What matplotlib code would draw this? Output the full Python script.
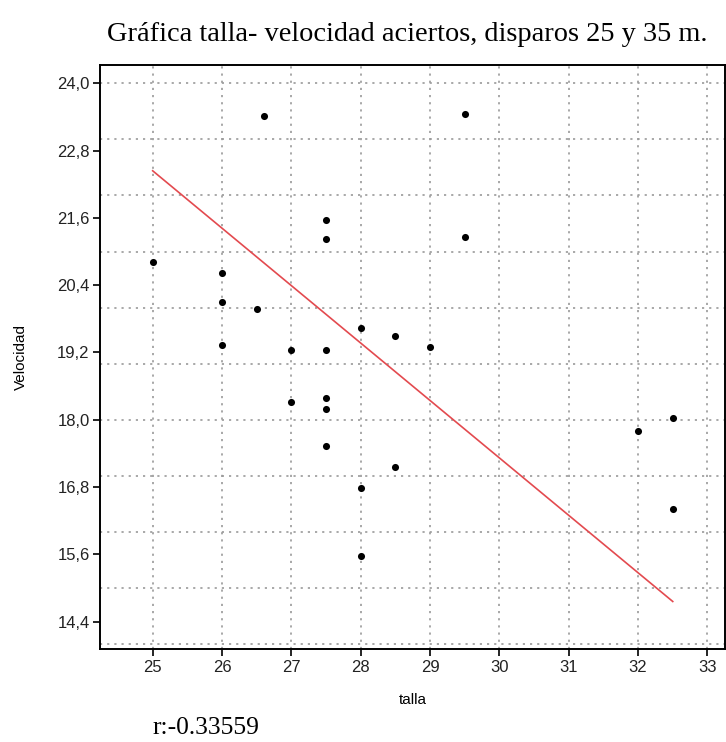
import matplotlib
matplotlib.use("Agg")
import matplotlib.pyplot as plt
import numpy as np

# talla (x) vs velocidad (y)
talla = [25, 26, 26, 26, 26.5, 26.6, 27, 27, 27.5, 27.5, 27.5, 27.5, 27.5, 27.5,
         28, 28, 28, 28.5, 28.5, 29, 29.5, 29.5, 32, 32.5, 32.5]
velocidad = [20.81, 20.61, 20.10, 19.34, 19.98, 23.42, 19.24, 18.32, 21.56, 21.22,
             19.24, 18.39, 18.19, 17.54, 19.63, 16.79, 15.57, 19.50, 17.16, 19.30,
             23.45, 21.26, 17.80, 18.04, 16.41]

# fitted line as drawn in the reference
fit_x = [25, 32.5]
fit_y = [22.44, 14.76]

xticks = [25, 26, 27, 28, 29, 30, 31, 32, 33]
yticks = [14.4, 15.6, 16.8, 18.0, 19.2, 20.4, 21.6, 22.8, 24.0]
ygrid = list(range(14, 25))

title = "Gráfica talla- velocidad aciertos, disparos 25 y 35 m."
r_text = "r:-0.33559"

sans = ["Liberation Sans", "DejaVu Sans"]
serif = ["Liberation Serif", "DejaVu Serif"]

fig = plt.figure(figsize=(7.26, 7.42), dpi=100)
ax = fig.add_axes([0.1377, 0.1249, 0.8606, 0.7875])

# grid: integer positions, independent from the tick labels
for g in xticks:
    ax.axvline(g, color="#9a9a9a", lw=1.2, ls=(0, (1.3, 3.0)), zorder=1)
for g in ygrid:
    ax.axhline(g, color="#9a9a9a", lw=1.2, ls=(0, (1.3, 3.0)), zorder=1)

ax.plot(fit_x, fit_y, color="#e34a4f", lw=1.2, zorder=2)
ax.scatter(talla, velocidad, s=26, color="black", zorder=3, linewidths=0)

ax.set_xlim(24.24, 33.25)
ax.set_ylim(13.907, 24.326)
ax.set_xticks(xticks)
ax.set_yticks(yticks)
ax.set_yticklabels([f"{v:.1f}".replace(".", ",") for v in yticks])
ax.tick_params(direction="out", length=5, width=1.2, labelsize=12, pad=2.5, colors="black")
for lab in ax.get_xticklabels() + ax.get_yticklabels():
    lab.set_family(sans)
    lab.set_color("#222222")
for s in ax.spines.values():
    s.set_linewidth(1.4)

ax.set_xlabel("talla", family=sans, fontsize=11, labelpad=13)
ax.set_ylabel("Velocidad", family=sans, fontsize=11, labelpad=21)

fig.text(0.561, 0.953, title, ha="center", va="center", family=serif, fontsize=20.4)
fig.text(0.21, 0.019, r_text, ha="left", va="center", family=serif, fontsize=18.4)

fig.savefig("out.png", dpi=100)
